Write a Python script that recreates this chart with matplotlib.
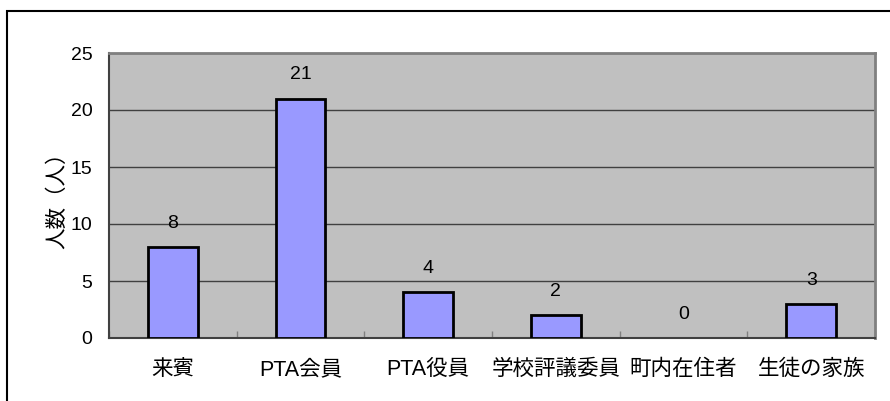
import matplotlib.pyplot as plt
from matplotlib.patches import Rectangle
import numpy as np

plt.rcParams['font.family'] = ['Liberation Sans', 'Noto Sans CJK JP']

categories = ["来賓", "PTA会員", "PTA役員", "学校評議委員", "町内在住者", "生徒の家族"]
counts = [8, 21, 4, 2, 0, 3]
yticks = [0, 5, 10, 15, 20, 25]

fig = plt.figure(figsize=(8.9, 4.01), dpi=100)
ax = fig.add_axes([109 / 890, 1 - 338 / 401, (875 - 109) / 890, (338 - 53) / 401])

# outer frame of the chart area (runs off right and bottom)
fig.patches.append(Rectangle((6.5 / 890, -0.1), 1.2, 1.1 - 10.5 / 401,
                             transform=fig.transFigure, fill=False,
                             edgecolor="black", linewidth=1.5, clip_on=False))

ax.set_facecolor("#c0c0c0")
x = np.arange(len(categories))
lw = [2 if v > 0 else 0 for v in counts]
ax.bar(x, counts, width=0.39, color="#9999ff", edgecolor="black", linewidth=lw, zorder=3)

for xi, v in zip(x, counts):
    ax.annotate(str(v), (xi, v), xytext=(0, 17), textcoords="offset points",
                ha="center", va="center", fontsize=14)

ax.set_xlim(-0.5, len(categories) - 0.5)
ax.set_ylim(0, 25)
ax.set_yticks(yticks)
ax.yaxis.grid(True, color="#404040", linewidth=1)
ax.set_axisbelow(True)

ax.set_xticks(x)
ax.set_xticklabels(categories, fontsize=15.5)
ax.set_xticks(np.arange(len(categories) + 1) - 0.5, minor=True)
ax.tick_params(axis="x", which="major", length=0, pad=15)
ax.tick_params(axis="x", which="minor", direction="in", length=5, color="#808080", width=1)
ax.tick_params(axis="y", length=0, pad=12, labelsize=14)

ax.set_ylabel("人数（人）", fontsize=15.5, labelpad=2)

for s in ["left", "bottom"]:
    ax.spines[s].set_color("#404040")
    ax.spines[s].set_linewidth(1.5)
for s in ["top", "right"]:
    ax.spines[s].set_color("#808080")
    ax.spines[s].set_linewidth(2)

fig.savefig("out.png", dpi=100)
